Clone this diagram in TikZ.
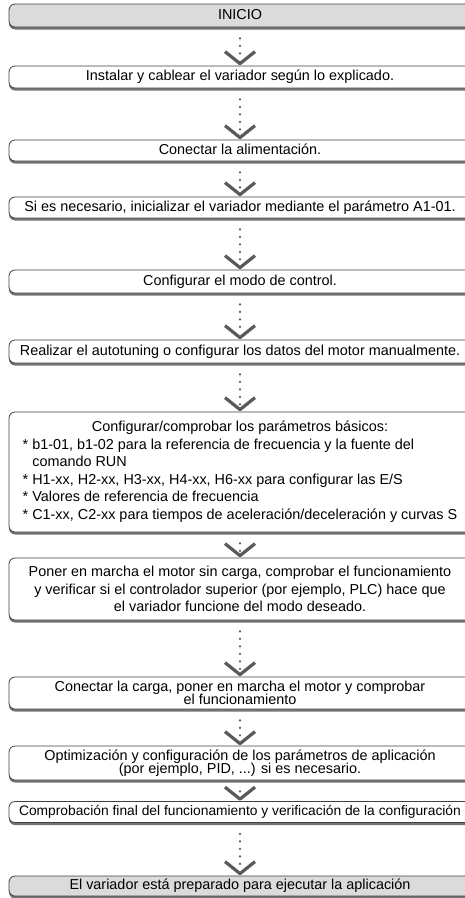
\documentclass[tikz,border=0pt]{standalone}
\usepackage{fontspec}
\setmainfont{Liberation Sans}
\usetikzlibrary{shadows}
\tikzset{
  box/.style={draw=black!75, line width=0.8pt, rounded corners=6pt, fill=white,
    minimum width=462pt, inner xsep=0pt, inner ysep=0pt, align=center,
    font=\fontsize{14.4}{17.5}\selectfont,
    drop shadow={shadow xshift=0pt, shadow yshift=-2.5pt, fill=black!55, opacity=1}},
  term/.style={box, fill=gray!28},
  one/.style={text height=10.5pt, text depth=3pt},
  tight/.style={font=\fontsize{14.4}{13.5}\selectfont},
  dotline/.style={draw=black!65, line width=2.4pt, line cap=round,
    dash pattern=on 0pt off 7.5pt, shorten <=11pt, shorten >=6pt},
  chevron/.pic={\draw[black!65, line width=3.2pt, line cap=butt, line join=round]
    (-15,12) -- (0,0) -- (15,12);}
}
\begin{document}
\begin{tikzpicture}[x=1pt,y=1pt]
\useasboundingbox (0,0) rectangle (465,-898);
\clip (0,0) rectangle (465,-898);
\node[term, one, minimum height=23pt] (n1) at (240,-15.5) {INICIO};
\node[box, one, minimum height=22pt] (n2) at (240,-77) {Instalar y cablear el variador según lo explicado.};
\node[box, one, minimum height=21pt] (n3) at (240,-150.5) {Conectar la alimentación.};
\node[box, one, minimum height=21pt] (n4) at (240,-207.5) {Si es necesario, inicializar el variador mediante el parámetro A1-01.};
\node[box, one, minimum height=23pt] (n5) at (240,-281.5) {Configurar el modo de control.};
\node[box, one, minimum height=23pt] (n6) at (240,-351.5) {Realizar el autotuning o configurar los datos del motor manualmente.};
\node[box, minimum height=120pt] (n7) at (240,-472) {\begin{tabular}{@{}l@{}}
\multicolumn{1}{@{}c@{}}{Configurar/comprobar los parámetros básicos:}\\
{*} b1-01, b1-02 para la referencia de frecuencia y la fuente del\\
\phantom{* }comando RUN\\
{*} H1-xx, H2-xx, H3-xx, H4-xx, H6-xx para configurar las E/S\\
{*} Valores de referencia de frecuencia\\
{*} C1-xx, C2-xx para tiempos de aceleración/deceleración y curvas S
\end{tabular}};
\node[box, minimum height=62pt] (n8) at (240,-589) {Poner en marcha el motor sin carga, comprobar el funcionamiento\\y verificar si el controlador superior (por ejemplo, PLC) hace que\\el variador funcione del modo deseado.};
\node[box, tight, minimum height=32pt] (n9) at (240,-693) {Conectar la carga, poner en marcha el motor y comprobar\\el funcionamiento};
\node[box, tight, minimum height=34pt] (n10) at (240,-763) {Optimización y configuración de los parámetros de aplicación\\(por ejemplo, PID, ...) si es necesario.};
\node[box, one, minimum height=21pt, font=\fontsize{13.8}{17}\selectfont] (n11) at (240,-812) {Comprobación final del funcionamiento y verificación de la configuración};
\node[term, one, minimum height=20pt] (n12) at (240,-886) {El variador está preparado para ejecutar la aplicación};
\foreach \a/\b in {n1/n2,n2/n3,n3/n4,n4/n5,n5/n6,n6/n7,n7/n8,n8/n9,n9/n10,n10/n11,n11/n12}{
  \draw[dotline] (\a.south) -- (\b.north);
  \pic at ([yshift=2pt]\b.north) {chevron};
}
\end{tikzpicture}
\end{document}
